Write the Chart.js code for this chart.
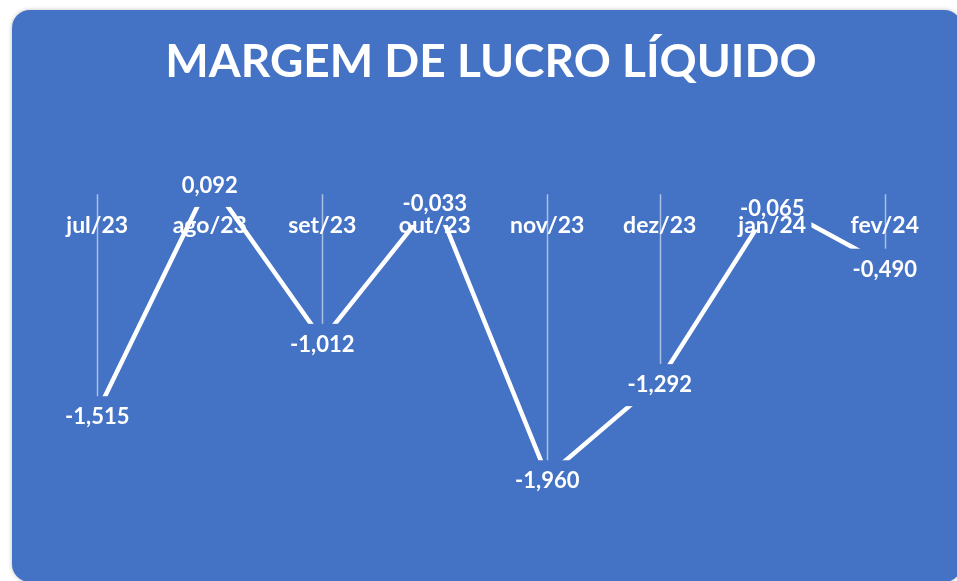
<!DOCTYPE html>
<html lang="pt">
<head>
  <meta charset="UTF-8" />
  <title>Margem de Lucro Líquido</title>
  <script src="https://cdn.jsdelivr.net/npm/chart.js"></script>
  <style>
    html, body { margin: 0; padding: 0; background: #fff; width: 957px; height: 581px; overflow: hidden; }
    #card {
      position: absolute; left: 12px; top: 10px; width: 950px; height: 572px;
      background: #4472c4; border-radius: 18px;
      box-shadow: 0 0 4px rgba(0, 0, 0, 0.25);
    }
    #chart { position: absolute; left: 0; top: 0; }
  </style>
</head>
<body>
  <div id="card"></div>
  <canvas id="chart" width="957" height="581"></canvas>

  <script>
    const months = ["jul/23", "ago/23", "set/23", "out/23", "nov/23", "dez/23", "jan/24", "fev/24"];
    const margem = [-1.515, 0.092, -1.012, -0.033, -1.960, -1.292, -0.065, -0.490];

    const cardBlue = "#4472c4";
    const labelFont = "bold 22px Lato";

    const fmt = v => v.toFixed(3).replace(".", ",");

    // linhas verticais do eixo (zero) até cada ponto
    const dropLines = {
      id: "dropLines",
      beforeDatasetsDraw(chart) {
        const { ctx, scales: { y } } = chart;
        const zero = y.getPixelForValue(0);
        const pts = chart.getDatasetMeta(0).data;
        ctx.save();
        ctx.strokeStyle = "rgba(255,255,255,0.55)";
        ctx.lineWidth = 1.5;
        pts.forEach(p => {
          ctx.beginPath();
          ctx.moveTo(Math.round(p.x) + 0.5, zero);
          ctx.lineTo(Math.round(p.x) + 0.5, p.y);
          ctx.stroke();
        });
        ctx.restore();
      }
    };

    // rótulos de dados com fundo azul (cobrem a linha, como no Excel)
    const valueLabels = {
      id: "valueLabels",
      afterDatasetsDraw(chart) {
        const { ctx } = chart;
        const pts = chart.getDatasetMeta(0).data;
        ctx.save();
        ctx.font = labelFont;
        ctx.textAlign = "center";
        ctx.textBaseline = "middle";
        pts.forEach((p, i) => {
          const txt = fmt(margem[i]);
          const w = ctx.measureText(txt).width + 14;
          const cy = p.y + 5;
          ctx.fillStyle = cardBlue;
          ctx.fillRect(p.x - w / 2, cy - 21, w, 42);
          ctx.fillStyle = "#fff";
          ctx.fillText(txt, p.x, cy);
        });
        ctx.restore();
      }
    };

    new Chart(document.getElementById("chart"), {
      type: "line",
      data: {
        labels: months,
        datasets: [{
          data: margem,
          borderColor: "#fff",
          borderWidth: 4.5,
          pointRadius: 0,
          tension: 0
        }]
      },
      options: {
        responsive: false,
        animation: false,
        layout: { padding: { left: 41, right: 16, top: 0, bottom: 27 } },
        plugins: {
          legend: { display: false },
          tooltip: { enabled: false },
          title: {
            display: true,
            text: "MARGEM DE LUCRO LÍQUIDO",
            color: "#fff",
            font: { family: "Lato", size: 46, weight: "bold" },
            padding: { top: 35, bottom: 32 }
          }
        },
        scales: {
          x: {
            position: { y: 0 },
            z: 1,
            offset: true,
            grid: { display: false, drawTicks: false },
            border: { display: false },
            ticks: {
              z: 1,
              color: "#fff",
              font: { family: "Lato", size: 23, weight: "bold" },
              padding: 18,
              maxRotation: 0,
              autoSkip: false
            },
            afterFit(scale) { scale.height = 0; }
          },
          y: {
            display: false,
            min: -2.5,
            max: 0.5
          }
        }
      },
      plugins: [dropLines, valueLabels]
    });
  </script>
</body>
</html>
